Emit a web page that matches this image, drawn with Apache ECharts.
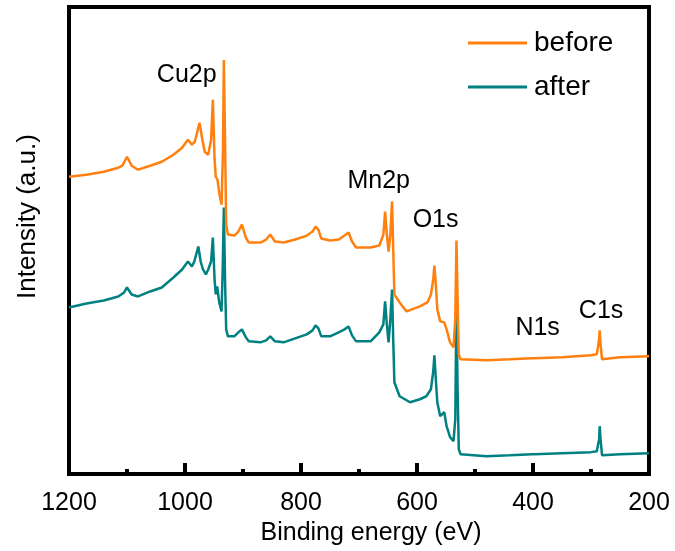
<!DOCTYPE html>
<html>
<head>
<meta charset="utf-8">
<script src="https://cdn.jsdelivr.net/npm/echarts@6/dist/echarts.min.js"></script>
<style>html,body{margin:0;padding:0;background:#fff}#c{width:675px;height:551px}</style>
</head>
<body>
<div id="c"></div>
<script>
// Binding energy (eV) and intensity (a.u.)
const beforeE = [1200,1170,1140,1115,1108,1100,1092,1081,1060,1040,1020,1005,995,988,983,975,970,966,960,955,952,949,947,944,941,937,934.5,933,931,929,926,915,908,902,895,890,870,860,853,845,830,810,790,780,775,770,765,750,735,725,718,712,705,680,665,658,655,652,649,646,643,641,639,630,618,595,582,576,572,570,567,565,560,553,549,543,537,534,532,530,528,525,480,440,402,400,397,350,300,290,286,285,283.5,281,278,250,200];
const beforeI = [298,300,303,307,309,318,309,305,309,313,320,327,335,330,333,352,335,323,320,335,375,315,298,295,282,270,325,415,335,250,240,239,243,250,237,232,232,235,240,233,232,235,239,243,248,245,236,234,235,239,242,233,227,227,229,240,263,240,223,240,273,225,180,172,163,168,172,180,195,209,185,165,153,152,145,132,127,155,234,175,120,115,114,115,116,118,116,117,119,120,135,144,130,115,117,117,118];
const afterE = [1200,1170,1140,1115,1105,1100,1092,1081,1060,1040,1020,1005,995,988,984,977,973,969,964,960,955,952,949,947,944.5,941,937,935,933,931,929,926,915,908,902,895,890,870,860,853,845,830,810,790,780,775,770,765,750,735,725,718,712,705,680,665,658,655,652,649,646,643,641,639,630,612,595,584,576,572,570,567,565,560,553,549,543,537,534,532,530,528,525,480,440,402,400,397,350,300,290,286,285,283.5,281,278,250,200];
const afterI = [167,171,174,178,182,187,180,178,183,187,197,205,213,208,213,228,213,205,200,205,213,237,195,180,188,172,163,205,267,195,145,138,138,142,145,137,133,132,134,138,133,132,136,140,144,149,146,138,138,142,145,148,139,133,133,142,150,173,150,132,155,185,135,92,78,72,75,78,85,103,119,90,72,58,62,48,37,33,55,171,85,25,20,18,19,20,22,20,21,22,23,35,48,35,19,20,20,21];
const seriesNames = ['before', 'after'];
const xTicks = [1200, 1000, 800, 600, 400, 200];
// peak annotations: label, energy, intensity position
const annoText = ['Cu2p', 'Mn2p', 'O1s', 'N1s', 'C1s'];
const annoE = [997, 666, 568, 392, 282.6];
const annoI = [400, 294, 254, 146, 163];

const FONT = "'Liberation Sans', Arial, sans-serif";
const chart = echarts.init(document.getElementById('c'), null, {renderer: 'canvas'});
const pair = (xs, ys) => xs.map((x, i) => [x, ys[i]]);
chart.setOption({
  animation: false,
  backgroundColor: '#fff',
  textStyle: {fontFamily: FONT},
  grid: {left: 69, right: 26, top: 7, bottom: 76, show: true, borderColor: '#000', borderWidth: 4, backgroundColor: 'transparent'},
  legend: {
    data: seriesNames,
    orient: 'vertical',
    left: 468, top: 28, padding: 0,
    icon: 'rect', itemWidth: 59, itemHeight: 3, itemGap: 14,
    textStyle: {fontFamily: FONT, fontSize: 28, color: '#000', lineHeight: 30, padding: [0, 0, 0, 2]}
  },
  xAxis: {
    type: 'value', min: 200, max: 1200, interval: 200, inverse: true,
    name: 'Binding energy (eV)', nameLocation: 'middle', nameGap: 40,
    nameTextStyle: {fontFamily: FONT, fontSize: 25, color: '#000', padding: [0, 0, 0, 24]},
    axisLine: {show: false},
    axisTick: {show: true, inside: true, length: 11, lineStyle: {color: '#000', width: 4}},
    minorTick: {show: true, splitNumber: 2, length: 5, lineStyle: {color: '#000', width: 4}},
    axisLabel: {fontFamily: FONT, fontSize: 25, color: '#000', margin: 17,
      formatter: v => xTicks.includes(v) ? String(v) : ''},
    splitLine: {show: false}
  },
  yAxis: {
    type: 'value', min: 0, max: 468,
    name: 'Intensity (a.u.)', nameLocation: 'middle', nameGap: 28,
    nameTextStyle: {fontFamily: FONT, fontSize: 26, color: '#000', padding: [0, 0, 0, 48]},
    axisLine: {show: false}, axisTick: {show: false}, axisLabel: {show: false}, splitLine: {show: false}
  },
  series: [
    {name: seriesNames[0], type: 'line', data: pair(beforeE, beforeI), showSymbol: false, symbol: 'none',
      lineStyle: {color: '#FF800E', width: 2.5}, itemStyle: {color: '#FF800E'}, z: 3},
    {name: seriesNames[1], type: 'line', data: pair(afterE, afterI), showSymbol: false, symbol: 'none',
      lineStyle: {color: '#008080', width: 2.5}, itemStyle: {color: '#008080'}, z: 2},
    {name: 'labels', type: 'scatter', silent: true, symbolSize: 0, z: 5,
      itemStyle: {opacity: 1, color: '#000'},
      data: annoText.map((t, i) => ({name: t, value: [annoE[i], annoI[i]]})),
      label: {show: true, position: 'inside', formatter: p => p.name, fontFamily: FONT, fontSize: 25,
        color: '#000', opacity: 1, textBorderWidth: 0}}
  ]
});
</script>
</body>
</html>
